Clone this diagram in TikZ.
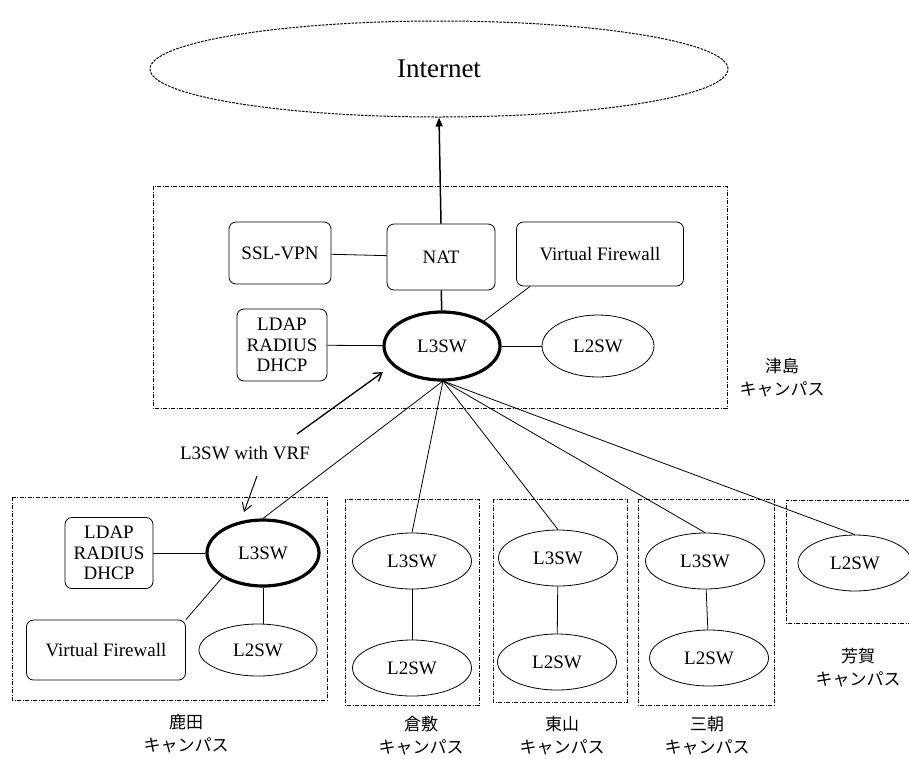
\documentclass[tikz,border=0pt]{standalone}
\usepackage{fontspec}
\setmainfont{Liberation Serif}
\newfontfamily\jpfont{Noto Sans CJK JP}
\usetikzlibrary{shapes.geometric,arrows.meta}
\tikzset{
  box/.style={draw, rounded corners=7pt, line width=0.8pt, align=center, font=\fontsize{19}{20.5}\selectfont},
  sw/.style={draw, ellipse, line width=0.8pt, inner sep=0pt, font=\fontsize{19}{21}\selectfont},
  core/.style={sw, line width=3.2pt},
  campus/.style={line width=1pt, dash pattern=on 4pt off 1.5pt on 1pt off 1.5pt},
  link/.style={line width=0.8pt},
  place/.style={align=center, font=\jpfont\fontsize{17}{23}\selectfont},
}
\begin{document}
\begin{tikzpicture}[x=1pt,y=-1pt]
\useasboundingbox (0,0) rectangle (909,758);

% Internet cloud
\node[draw, ellipse, line width=1pt, dash pattern=on 2.5pt off 1.2pt,
      minimum width=578pt, minimum height=96pt, font=\fontsize{27}{29}\selectfont] (inet) at (439,69) {Internet};

% Tsushima campus
\draw[campus] (153,186) rectangle (727,408);
\node[box, minimum width=102pt, minimum height=62pt] (vpn) at (280,253) {SSL-VPN};
\node[box, minimum width=108pt, minimum height=66pt] (nat) at (441,257) {NAT};
\node[box, minimum width=167pt, minimum height=64pt] (vfw) at (600,254) {Virtual Firewall};
\node[box, minimum width=90pt, minimum height=72pt, inner sep=2pt] (srv) at (282,345) {LDAP\\RADIUS\\DHCP};
\node[core, minimum width=116pt, minimum height=68pt] (core) at (442,346) {L3SW};
\node[sw, minimum width=112pt, minimum height=62pt] (tl2) at (598,346) {L2SW};
\node[place] (tlab) at (782,378) {津島\\キャンパス};

\draw[line width=1.5pt, -{Triangle[length=9pt,width=7pt]}] (nat.north) -- (inet.south);
\draw[link] (vpn) -- (nat);
\draw[line width=1.5pt] (nat) -- (core);
\draw[link] (vfw.south west) ++(14pt,0) coordinate (vfwc) (vfwc) -- (core.north east);
\draw[link] (srv) -- (core);
\draw[link] (core) -- (tl2);

% Kashima campus
\draw[campus] (12,497) rectangle (327,700);
\node[box, minimum width=88pt, minimum height=71pt, inner sep=2pt] (ksrv) at (109,553) {LDAP\\RADIUS\\DHCP};
\node[core, minimum width=112pt, minimum height=66pt] (kl3) at (263,553) {L3SW};
\node[box, minimum width=159pt, minimum height=60pt] (kvfw) at (106,650) {Virtual Firewall};
\node[sw, minimum width=118pt, minimum height=52pt] (kl2) at (258,650) {L2SW};
\node[place] (klab) at (186,734) {鹿田\\キャンパス};
\draw[link] (ksrv) -- (kl3);
\draw[link] (kl3.south west) -- (kvfw.north east);
\draw[link] (kl3.south) -- (kl2.north -| kl3.south);

% Kurashiki campus
\draw[campus] (345,499) rectangle (479,705);
\node[sw, minimum width=119pt, minimum height=56pt] (rl3) at (412,561) {L3SW};
\node[sw, minimum width=119pt, minimum height=56pt] (rl2) at (412,668) {L2SW};
\node[place] (rlab) at (421,736) {倉敷\\キャンパス};
\draw[link] (rl3) -- (rl2);

% Higashiyama campus
\draw[campus] (493,499) rectangle (627,702);
\node[sw, minimum width=119pt, minimum height=56pt] (hl3) at (558,558) {L3SW};
\node[sw, minimum width=119pt, minimum height=56pt] (hl2) at (557,662) {L2SW};
\node[place] (hlab) at (562,736) {東山\\キャンパス};
\draw[link] (hl3) -- (hl2);

% Misasa campus
\draw[campus] (638,499) rectangle (774,705);
\node[sw, minimum width=119pt, minimum height=56pt] (ml3) at (705,561) {L3SW};
\node[sw, minimum width=119pt, minimum height=56pt] (ml2) at (709,658) {L2SW};
\node[place] (mlab) at (707,736) {三朝\\キャンパス};
\draw[link] (ml3) -- (ml2);

% Haga campus
\draw[campus] (912,623) -- (786,623) -- (786,500) -- (912,500);
\node[sw, minimum width=114pt, minimum height=56pt] (gl2) at (855,563) {L2SW};
\node[place] (glab) at (858,668) {芳賀\\キャンパス};

% Uplinks from the core switch
\coordinate (hub) at (443,381);
\draw[link] (hub) -- (kl3.north);
\draw[link] (hub) -- (rl3.north);
\draw[link] (hub) -- (hl3.north);
\draw[link] (hub) -- (ml3.north);
\draw[link] (hub) -- (gl2.north);

% VRF annotation
\node[font=\fontsize{19}{21}\selectfont] (vrf) at (245,453) {L3SW with VRF};
\coordinate (va) at (297,434);
\coordinate (vb) at (383,372);
\coordinate (vc) at (257,476);
\coordinate (vd) at (244,512);
\draw[line width=1.3pt, -{Straight Barb[length=8pt,width=10pt]}] (va) -- (vb);
\draw[line width=1pt, -{Straight Barb[length=8pt,width=10pt]}] (vc) -- (vd);
\end{tikzpicture}
\end{document}
